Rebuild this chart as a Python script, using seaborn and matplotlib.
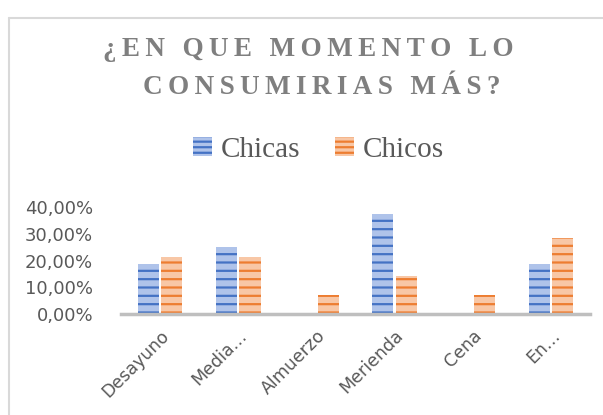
import matplotlib
matplotlib.use('Agg')
import matplotlib.pyplot as plt
import matplotlib.ticker as mticker
from matplotlib.patches import Patch
from matplotlib.lines import Line2D
import pandas as pd
import seaborn as sns

# data
momentos = ['Desayuno', 'Media…', 'Almuerzo', 'Merienda', 'Cena', 'En…']
chicas = [0.1875, 0.25, 0.0, 0.375, 0.0, 0.1875]
chicos = [0.2143, 0.2143, 0.0714, 0.1429, 0.0714, 0.2857]
grupos = ['Chicas', 'Chicos']

df = pd.DataFrame({
    'momento': momentos * 2,
    'valor': chicas + chicos,
    'grupo': ['Chicas'] * len(momentos) + ['Chicos'] * len(momentos),
})

colores = {'Chicas': ('#4472C4', '#AFC3EA'), 'Chicos': ('#ED7D31', '#F8C7A6')}

sns.set_style('white')
plt.rcParams['hatch.linewidth'] = 1.6

fig = plt.figure(figsize=(6.03, 4.15), dpi=100)
ax = fig.add_axes([121 / 603, 1 - 314 / 415, 469 / 603, 107 / 415])

sns.barplot(data=df, x='momento', y='valor', hue='grupo', hue_order=grupos,
            order=momentos, width=0.6, gap=0.1, legend=False, ax=ax)

for cont, g in zip(ax.containers, grupos):
    dark, light = colores[g]
    for bar in cont:
        bar.set_facecolor(light)
        bar.set_edgecolor(dark)
        bar.set_linewidth(0)
        bar.set_hatch('--')

ax.set_xlim(-0.5, 5.5)
ax.set_ylim(0, 0.4)
ax.yaxis.set_major_locator(mticker.MultipleLocator(0.1))
ax.yaxis.set_major_formatter(mticker.FuncFormatter(
    lambda v, p: f'{v * 100:.2f}%'.replace('.', ',')))
ax.set_xlabel('')
ax.set_ylabel('')
for s in ['top', 'right', 'left']:
    ax.spines[s].set_visible(False)
ax.spines['bottom'].set_color('#BFBFBF')
ax.spines['bottom'].set_linewidth(2.5)
ax.tick_params(axis='y', length=0, pad=20, labelsize=13, labelcolor='#595959')
ax.tick_params(axis='x', length=0, pad=9, labelsize=12.5, labelcolor='#595959')
plt.setp(ax.get_xticklabels(), rotation=45, ha='right', rotation_mode='anchor')

# title with letter spacing (thin spaces between letters)
def spaced(s):
    return ' \u2009\u2009'.join('\u2009'.join(w) for w in s.split(' '))

fig.text(0.512, 1 - 50 / 415, spaced('¿EN QUE MOMENTO LO'), ha='center', va='center',
         family=['Liberation Serif', 'DejaVu Serif'], weight='bold', fontsize=19.5,
         color='#7F7F7F')
fig.text(0.533, 1 - 88 / 415, spaced('CONSUMIRIAS MÁS?'), ha='center', va='center',
         family=['Liberation Serif', 'DejaVu Serif'], weight='bold', fontsize=19.5,
         color='#7F7F7F')

handles = [Patch(facecolor=colores[g][1], edgecolor=colores[g][0], hatch='---',
                 linewidth=0) for g in grupos]
fig.legend(handles, grupos, loc='center', bbox_to_anchor=(0.528, 1 - 150 / 415),
           ncol=2, frameon=False, prop={'family': 'Liberation Serif', 'size': 21},
           handlelength=0.65, handleheight=0.65, handletextpad=0.3, columnspacing=1.2,
           labelcolor='#595959')

# chart frame (top and left edges visible)
fig.add_artist(Line2D([9 / 603, 1], [1 - 18 / 415] * 2, color='#D9D9D9', lw=1.5,
                      transform=fig.transFigure))
fig.add_artist(Line2D([9 / 603] * 2, [0, 1 - 18 / 415], color='#D9D9D9', lw=1.5,
                      transform=fig.transFigure))

fig.savefig('out.png', dpi=100)
